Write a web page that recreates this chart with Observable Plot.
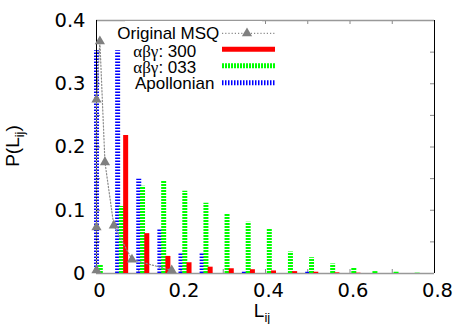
<!DOCTYPE html>
<html><head><meta charset="utf-8">
<script src="https://cdn.jsdelivr.net/npm/d3@7"></script>
<script src="https://cdn.jsdelivr.net/npm/@observablehq/plot@0.6"></script>
<style>
body{margin:0;background:#fff;}
#wrap{position:relative;width:463px;height:324px;overflow:hidden;}
#wrap svg{position:absolute;left:0;top:0;}
</style></head><body><div id="wrap"></div>
<script>
// ---- data ----
const bins = [0,0.05,0.10,0.15,0.20,0.25,0.30,0.35,0.40,0.45,0.50,0.55,0.60,0.65,0.70,0.75];
const apollonian = [0.352,0.352,0.149,0.071,0.032,0.032,0,0.002,0,0,0.002,0,0,0,0,0];
const abg033 = [0.014,0.106,0.138,0.147,0.130,0.111,0.095,0.081,0.071,0.034,0.025,0.015,0.009,0.003,0.002,0.0005];
const abg300 = [0,0.218,0.063,0.027,0.017,0.010,0.0075,0.006,0.004,0.003,0.002,0.001,0.0005,0,0,0];
const msqX = [0,0,0,0.008,0.02,0.041,0.084,0.178];
const msqY = [0.005,0.073,0.275,0.367,0.176,0.076,0.022,0.005];
const xTickLabels = [0,0.2,0.4,0.6,0.8];
const yTickLabels = [0,0.1,0.2,0.3,0.4];
const xMinorTicks = [0,0.1,0.2,0.3,0.4,0.5,0.6,0.7,0.8];
const yMinorTicks = [0,0.05,0.1,0.15,0.2,0.25,0.3,0.35,0.4];
const seriesNames = ["Original MSQ","αβγ: 300","αβγ: 033","Apollonian"];

// ---- layout / style ----
const W = 463, H = 324, mL = 96, mR = 29, mT = 20, mB = 51;
const pw = W - mL - mR, ph = H - mT - mB;
const colMSQ = "#808080", colMSQLine = "#8a8a8a", colRed = "#ff0000", colGreen = "#00ff00", colBlue = "#0000ff";
const dashBlue = "1.5,1.5", dashGreen = "2,1", dashMSQ = "1.2,2";

function bars(vals, offset, color, dash) {
  const data = bins.map((b, i) => ({x: b + offset, v: vals[i]})).filter(d => d.v > 0);
  return Plot.ruleX(data, {x: "x", y1: () => 0, y2: "v", stroke: color, strokeWidth: 5, strokeDasharray: dash});
}
const msq = msqX.map((x, i) => ({x, y: msqY[i]}));

const chart = Plot.plot({
  width: W, height: H,
  marginLeft: mL, marginRight: mR, marginTop: mT, marginBottom: mB,
  x: {domain: [0, 0.8], label: null},
  y: {domain: [0, 0.4], label: null},
  style: {fontFamily: "DejaVu Sans", background: "#fff"},
  marks: [
    Plot.tickX(xMinorTicks, {x: d => d, insetTop: ph - 4, stroke: "#888"}),
    Plot.tickX(xMinorTicks, {x: d => d, insetBottom: ph - 4, stroke: "#888"}),
    Plot.tickY(yMinorTicks, {y: d => d, insetRight: pw - 4, stroke: "#888"}),
    Plot.tickY(yMinorTicks, {y: d => d, insetLeft: pw - 4, stroke: "#888"}),
    Plot.ruleY([0], {stroke: "#999", strokeWidth: 1.5}),
    Plot.ruleY([0.4], {stroke: "#999", strokeWidth: 1.5}),
    bars(apollonian, 0, colBlue, dashBlue),
    bars(abg033, 0.009, colGreen, dashGreen),
    bars(abg300, 0.019, colRed, null),
    Plot.ruleX([0], {stroke: "#000", strokeWidth: 1}),
    Plot.ruleX([0.8], {stroke: "#000", strokeWidth: 1}),
    Plot.line(msq, {x: "x", y: "y", stroke: colMSQLine, strokeWidth: 1.2, strokeDasharray: dashMSQ}),
    Plot.dot(msq, {x: "x", y: "y", symbol: "triangle", r: 3.8, fill: colMSQ, stroke: null}),
    Plot.axisX({ticks: xTickLabels, tickSize: 0, tickPadding: 10, dx: 3, fontSize: 19.5, fontFamily: "DejaVu Sans", fill: "#000", label: null, tickFormat: d => String(d)}),
    Plot.axisY({ticks: yTickLabels, tickSize: 0, tickPadding: 11, fontSize: 19.5, fontFamily: "DejaVu Sans", fill: "#000", label: null, tickFormat: d => String(d)})
  ]
});
const wrap = document.getElementById("wrap");
wrap.appendChild(chart);

// ---- overlay: key and axis titles ----
const svg = d3.select(wrap).append("svg").attr("width", W).attr("height", H).style("pointer-events", "none");
// key background hides the top ticks behind it
svg.append("rect").attr("x", 125).attr("y", 21).attr("width", 137).attr("height", 5).attr("fill", "#fff");

const keyBase = [39, 56.5, 73, 89];
const keyStart = [117.3, 133.3, 133.3, 135];
const keyLineY = [33.3, 49.3, 65.7, 82.7];
const sans = "Liberation Sans, Arial, sans-serif", serif = "Liberation Serif, Times New Roman, serif";
seriesNames.forEach((name, i) => {
  const t = svg.append("text").attr("x", keyStart[i]).attr("y", keyBase[i])
    .attr("font-family", sans).attr("font-size", 17).attr("fill", "#000");
  if (name.startsWith("αβγ")) {
    t.append("tspan").attr("font-family", serif).text("αβγ");
    t.append("tspan").text(name.slice(3));
  } else t.text(name);
});
const kx1 = 222, kx2 = 275;
svg.append("line").attr("x1", kx1).attr("x2", kx2).attr("y1", keyLineY[0]).attr("y2", keyLineY[0])
  .attr("stroke", colMSQLine).attr("stroke-width", 1.2).attr("stroke-dasharray", dashMSQ);
svg.append("path").attr("transform", `translate(247,${keyLineY[0]})`)
  .attr("d", d3.symbol(d3.symbolTriangle, Math.PI * 3.8 * 3.8)()).attr("fill", colMSQ);
[[colRed, null], [colGreen, dashGreen], [colBlue, dashBlue]].forEach(([c, d], j) => {
  const l = svg.append("line").attr("x1", kx1).attr("x2", kx2).attr("y1", keyLineY[j + 1]).attr("y2", keyLineY[j + 1])
    .attr("stroke", c).attr("stroke-width", 5);
  if (d) l.attr("stroke-dasharray", d);
});

// axis titles
const yl = svg.append("text").attr("transform", "translate(18.5,146) rotate(-90)")
  .attr("text-anchor", "middle").attr("font-family", sans).attr("font-size", 19).attr("fill", "#000");
yl.append("tspan").text("P(L");
yl.append("tspan").attr("font-size", 13).attr("dy", 5).text("ij");
yl.append("tspan").attr("dy", -5).text(")");

const xl = svg.append("text").attr("x", 262).attr("y", 317)
  .attr("text-anchor", "middle").attr("font-family", sans).attr("font-size", 19).attr("fill", "#000");
xl.append("tspan").text("L");
xl.append("tspan").attr("font-size", 13).attr("dy", 5).text("ij");
</script>
</body></html>
